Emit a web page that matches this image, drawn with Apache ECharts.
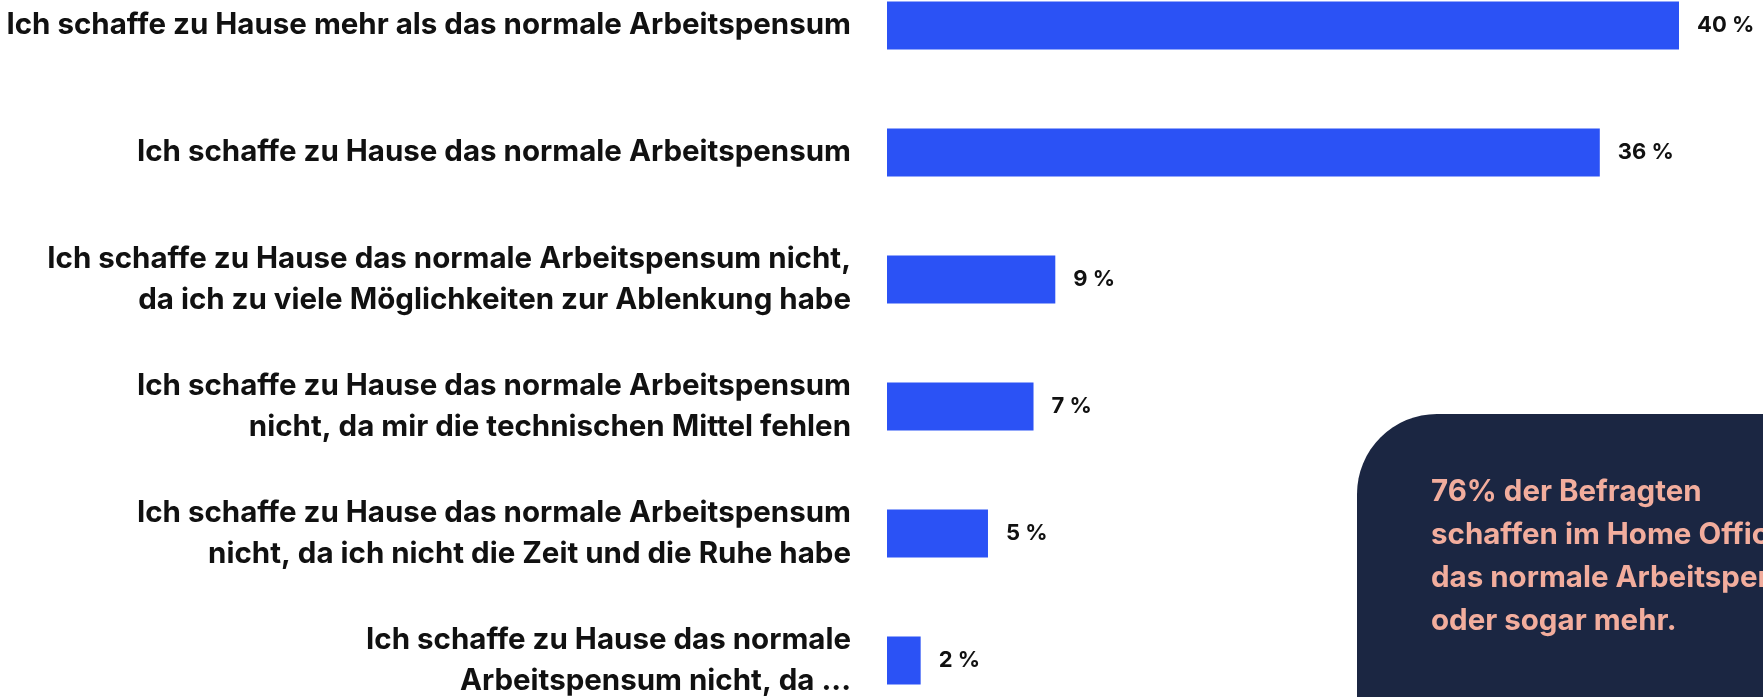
<!DOCTYPE html>
<html lang="de">
<head>
    <meta charset="UTF-8">
    <title>Home Office Arbeitspensum</title>
    <script src="https://cdn.jsdelivr.net/npm/echarts@6/dist/echarts.min.js"></script>
    <style>
        html, body { margin: 0; padding: 0; background: #fff; }
    </style>
</head>
<body>
    <div id="echarts" style="width: 1763px; height: 697px;"></div>
    <script>
        const categories = [
            'Ich schaffe zu Hause mehr als das normale Arbeitspensum',
            'Ich schaffe zu Hause das normale Arbeitspensum',
            'Ich schaffe zu Hause das normale Arbeitspensum nicht,\nda ich zu viele Möglichkeiten zur Ablenkung habe',
            'Ich schaffe zu Hause das normale Arbeitspensum\nnicht, da mir die technischen Mittel fehlen',
            'Ich schaffe zu Hause das normale Arbeitspensum\nnicht, da ich nicht die Zeit und die Ruhe habe',
            'Ich schaffe zu Hause das normale\nArbeitspensum nicht, da ...'
        ];
        const values = [40, 36, 8.5, 7.4, 5.1, 1.7];
        const noteText = '76% der Befragten\nschaffen im Home Office\ndas normale Arbeitspensum\noder sogar mehr.';

        const myChart = echarts.init(document.querySelector('#echarts'));
        const option = {
            animation: false,
            grid: {
                left: 887,
                right: 84,
                top: -38,
                bottom: -27,
                outerBoundsMode: 'none',
                containLabel: false
            },
            xAxis: {
                type: 'value',
                min: 0,
                max: 40,
                show: false
            },
            yAxis: {
                type: 'category',
                inverse: true,
                data: categories,
                axisLine: { show: false },
                axisTick: { show: false },
                axisLabel: {
                    margin: 36,
                    align: 'right',
                    color: '#111111',
                    fontFamily: 'Inter',
                    fontWeight: 700,
                    fontSize: 29.5,
                    lineHeight: 41
                }
            },
            series: [
                {
                    type: 'bar',
                    data: values,
                    barWidth: 48,
                    itemStyle: { color: '#2b52f5' },
                    label: {
                        show: true,
                        position: 'right',
                        distance: 18,
                        color: '#111111',
                        fontFamily: 'Inter',
                        fontWeight: 700,
                        fontSize: 22,
                        formatter: p => Math.round(p.value) + ' %'
                    }
                }
            ],
            graphic: [
                {
                    type: 'rect',
                    left: 1357,
                    top: 414,
                    shape: { width: 460, height: 300, r: [80, 0, 0, 0] },
                    style: { fill: '#1b2642' },
                    silent: true
                },
                {
                    type: 'text',
                    left: 1431,
                    top: 471,
                    style: {
                        text: noteText,
                        fill: '#f2ad9d',
                        fontFamily: 'Inter',
                        fontWeight: 700,
                        fontSize: 29.5,
                        lineHeight: 43
                    },
                    silent: true
                }
            ]
        };
        myChart.setOption(option);
    </script>
</body>
</html>
